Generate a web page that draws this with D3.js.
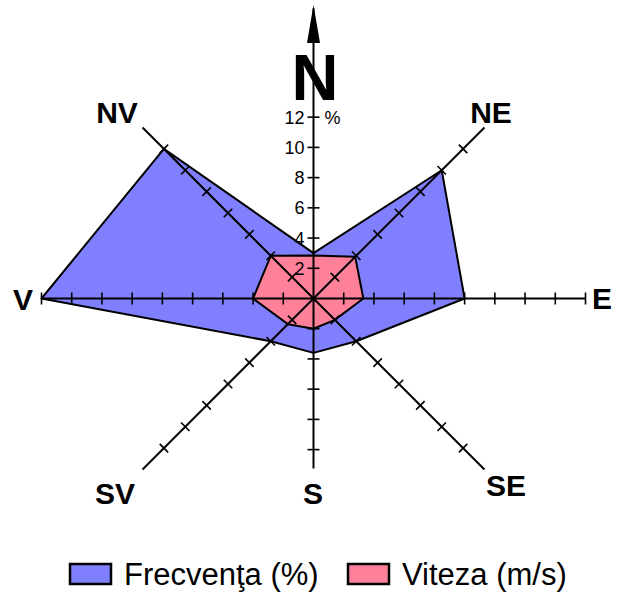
<!DOCTYPE html>
<html>
<head>
<meta charset="utf-8">
<title>Roza vanturilor</title>
<script src="https://d3js.org/d3.v7.min.js"></script>
<style>
body { margin: 0; background: #fff; }
text { font-family: "Liberation Sans", Arial, sans-serif; }
</style>
</head>
<body>
<script>
// directii (in sensul acelor de ceasornic, de la N)
var directii = ["N", "NE", "E", "SE", "S", "SV", "V", "NV"];
var frecventa = [3, 12, 10, 4, 3.6, 4, 18, 14];      // %
var viteza = [2.85, 3.9, 3.3, 2, 2, 2.4, 4, 4];      // m/s
var etichetePct = [2, 4, 6, 8, 10, 12];

var w = 643, h = 607;
var cx = 313.5, cy = 298.5;

var svg = d3.select("body").append("svg")
    .attr("width", w)
    .attr("height", h);

var r = d3.scaleLinear().domain([0, 18]).range([0, 272]);
var unghi = d3.scalePoint().domain(directii).range([0, Math.PI * 2 * 7 / 8]);

var g = svg.append("g").attr("transform", "translate(" + cx + "," + cy + ")");

function poligon(vals) {
    return d3.lineRadial()
        .angle(function(d, i) { return unghi(directii[i]); })
        .radius(function(d) { return r(d); })
        .curve(d3.curveLinearClosed)(vals);
}

g.append("path").attr("d", poligon(frecventa))
    .attr("fill", "#8080ff").attr("stroke", "#000").attr("stroke-width", 2)
    .attr("stroke-linejoin", "round");
g.append("path").attr("d", poligon(viteza))
    .attr("fill", "#ff8099").attr("stroke", "#000").attr("stroke-width", 2)
    .attr("stroke-linejoin", "round");

// axe: lungime si gradatii (in unitati)
var lungimi = {N: 19.2, NE: 16, E: 18, SE: 16, S: 11.25, SV: 16, V: 18, NV: 16};
var maxTick = {N: 12, NE: 14, E: 18, SE: 14, S: 10, SV: 14, V: 18, NV: 14};

directii.forEach(function(d) {
    var a = unghi(d);
    var sx = Math.sin(a), sy = -Math.cos(a);
    var L = r(lungimi[d]);
    g.append("line")
        .attr("x1", 0).attr("y1", 0)
        .attr("x2", L * sx).attr("y2", L * sy)
        .attr("stroke", "#000").attr("stroke-width", 2);
    var ticks = d3.range(2, maxTick[d] + 1, 2);
    g.selectAll(null).data(ticks).enter().append("line")
        .attr("x1", function(t) { return r(t) * sx - 6 * Math.cos(a); })
        .attr("y1", function(t) { return r(t) * sy - 6 * Math.sin(a); })
        .attr("x2", function(t) { return r(t) * sx + 6 * Math.cos(a); })
        .attr("y2", function(t) { return r(t) * sy + 6 * Math.sin(a); })
        .attr("stroke", "#000").attr("stroke-width", 1.6);
});

// sageata N
g.append("path")
    .attr("d", "M0," + (5 - cy) + "L-6.5," + (43 - cy) + "L6.5," + (43 - cy) + "Z")
    .attr("fill", "#000");

// etichete procente pe axa N
g.selectAll(".pct").data(etichetePct).enter().append("text")
    .attr("class", "pct")
    .attr("x", -9)
    .attr("y", function(t) { return -r(t); })
    .attr("dy", "0.36em")
    .attr("text-anchor", "end")
    .attr("font-size", 18)
    .text(function(t) { return t; });
g.append("text").attr("x", 11).attr("y", -r(12)).attr("dy", "0.36em")
    .attr("font-size", 18).text("%");

// etichete directii
var pozEtichete = {
    NE: [491, 123], E: [602, 309], SE: [506, 496], S: [313, 504],
    SV: [115, 504], V: [23, 310], NV: [117, 123]
};
Object.keys(pozEtichete).forEach(function(k) {
    svg.append("text")
        .attr("x", pozEtichete[k][0]).attr("y", pozEtichete[k][1])
        .attr("text-anchor", "middle")
        .attr("font-size", 30).attr("font-weight", "bold")
        .text(k);
});
svg.append("text")
    .attr("x", 315).attr("y", 100)
    .attr("text-anchor", "middle")
    .attr("font-size", 65).attr("font-weight", "bold")
    .text("N");

// legenda
var legenda = [
    {nume: "Frecvenţa (%)", culoare: "#8080ff", x: 70},
    {nume: "Viteza (m/s)", culoare: "#ff8099", x: 348}
];
var lg = svg.selectAll(".leg").data(legenda).enter().append("g")
    .attr("class", "leg")
    .attr("transform", function(d) { return "translate(" + d.x + ",564)"; });
lg.append("rect").attr("width", 41).attr("height", 20)
    .attr("fill", function(d) { return d.culoare; })
    .attr("stroke", "#000").attr("stroke-width", 2.5);
lg.append("text").attr("x", 54).attr("y", 20.5)
    .attr("font-size", 31)
    .text(function(d) { return d.nume; });
</script>
</body>
</html>
